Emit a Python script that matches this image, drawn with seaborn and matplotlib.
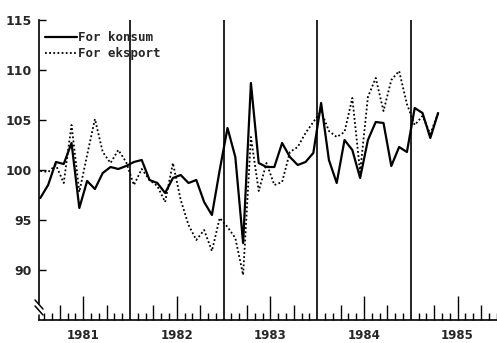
import numpy as np
import pandas as pd
import matplotlib
matplotlib.use("Agg")
import matplotlib.pyplot as plt
import seaborn as sns

# Monthly index values, Jan 1981 - Apr 1985
years = [1981, 1982, 1983, 1984, 1985]
konsum = [97.2, 98.5, 100.8, 100.6, 102.7, 96.2, 98.9, 98.1, 99.7, 100.3, 100.1, 100.4,
          100.8, 101.0, 99.0, 98.7, 97.7, 99.2, 99.5, 98.7, 99.0, 96.8, 95.5, 100.0,
          104.2, 101.3, 92.7, 108.7, 100.7, 100.3, 100.3, 102.7, 101.3, 100.5, 100.8, 101.7,
          106.7, 101.0, 98.7, 103.0, 102.0, 99.2, 103.0, 104.8, 104.7, 100.4, 102.3, 101.8,
          106.2, 105.7, 103.2, 105.7]
eksport = [99.9, 99.8, 100.5, 98.7, 104.5, 97.8, 101.5, 105.1, 101.8, 100.7, 102.0, 100.8,
           98.5, 100.1, 99.0, 98.4, 96.8, 100.7, 97.0, 94.5, 93.0, 94.0, 91.9, 95.2,
           94.3, 93.2, 89.5, 103.3, 97.9, 100.7, 98.5, 98.8, 101.8, 102.3, 103.7, 104.8,
           105.9, 103.9, 103.3, 103.8, 107.2, 99.8, 107.3, 109.2, 105.9, 109.0, 109.9, 106.6,
           104.5, 105.4, 103.6, 105.7]
yticks = [90, 95, 100, 105, 110, 115]

df = pd.DataFrame({
    "maaned": np.arange(len(konsum)) + 0.5,
    "For konsum": konsum,
    "For eksport": eksport,
})

sns.set_style("white")
plt.rcParams['font.family'] = ['DejaVu Sans']

fig = plt.figure(figsize=(4.97, 3.43), dpi=100)
ax = fig.add_axes([39 / 497, 23 / 343, 458 / 497, 300 / 343])

sns.lineplot(data=df, x="maaned", y="For konsum", ax=ax, color="black",
             lw=1.6, label="For konsum")
sns.lineplot(data=df, x="maaned", y="For eksport", ax=ax, color="black",
             lw=1.3, linestyle=(0, (1, 1.3)), label="For eksport")

# year boundaries
for k in range(1, len(years)):
    ax.axvline(12 * k, color="black", lw=1.2)

ax.set_xlim(0.33, 59.05)
ax.set_ylim(85, 115)
ax.set_xlabel("")
ax.set_ylabel("")

# x ticks: tall at mid-year (labelled), medium at quarters, short each month
ax.set_xticks([12 * k + 6 for k in range(len(years))])
ax.set_xticklabels([str(y) for y in years], fontsize=8.5, fontweight="bold")
ax.set_xticks([m for m in range(1, 60) if m % 3 != 0], minor=True)
ax.tick_params(axis="x", which="both", bottom=True, color="black")
ax.tick_params(axis="x", which="major", direction="in", length=17, width=1, pad=6.5)
ax.tick_params(axis="x", which="minor", direction="in", length=5, width=1)
sec = ax.secondary_xaxis("bottom")
sec.set_xticks([m for m in range(1, 60) if m % 6 == 3])
sec.tick_params(bottom=True, direction="in", length=11, width=1, color="black",
                labelbottom=False)
sec.spines["bottom"].set_visible(False)

ax.set_yticks(yticks)
ax.set_yticklabels([str(v) for v in yticks], fontsize=9, fontweight="bold")
ax.tick_params(axis="y", left=True, direction="in", length=5, width=1, pad=5,
               color="black")

for s in ["top", "right"]:
    ax.spines[s].set_visible(False)
for s in ["left", "bottom"]:
    ax.spines[s].set_color("black")
    ax.spines[s].set_linewidth(1.2)
ax.spines["left"].set_bounds(86.7, 115)

# axis break marks
kw = dict(transform=ax.transAxes, color="black", lw=1.1, clip_on=False)
ax.plot([-0.0087, 0.0087], [0.0667, 0.0367], **kw)
ax.plot([-0.0087, 0.0087], [0.0467, 0.0167], **kw)
ax.plot([0, 0], [0, 0.017], **kw)

ax.legend(loc="upper left", bbox_to_anchor=(0.013, 0.963), frameon=False,
          prop={"family": "DejaVu Sans Mono", "weight": "bold", "size": 9},
          handlelength=2.6, handletextpad=0.05, labelspacing=0.25,
          borderpad=0, borderaxespad=0)

fig.savefig("out.png", dpi=100)
